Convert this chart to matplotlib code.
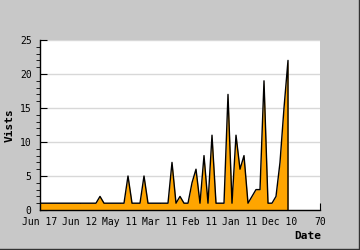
import numpy as np
import matplotlib
matplotlib.use("Agg")
import matplotlib.pyplot as plt
from matplotlib.ticker import MultipleLocator

# visits per sample
visits = [1] * 14 + [1, 2, 1, 1, 1, 1, 1, 1, 5, 1, 1, 1, 5, 1, 1, 1, 1, 1, 1,
                     7, 1, 2, 1, 1, 4, 6, 1, 8, 1, 11, 1, 1, 1, 17, 1, 11, 6,
                     8, 1, 2, 3, 3, 19, 1, 1, 2, 7, 15, 22]
tick_pos = [0, 10, 20, 30, 40, 50, 60, 70]
tick_labels = ["Jun 17", "Jun 12", "May 11", "Mar 11", "Feb 11",
               "Jan 11", "Dec 10", "70"]

plt.rcParams["font.family"] = ["DejaVu Sans Mono"]

x = np.arange(len(visits))
y = np.array(visits, dtype=float)

fig = plt.figure(figsize=(3.6, 2.5), dpi=100, facecolor="#c8c8c8")
ax = fig.add_axes([40 / 360, 40 / 250, 280 / 360, 170 / 250])
ax.set_facecolor("white")

ax.fill_between(x, y, 0, color="#ffa500", lw=0, zorder=2)
ax.plot(np.append(x, x[-1]), np.append(y, 0), color="black", lw=1, zorder=3)

ax.set_xlim(0, 70)
ax.set_ylim(0, 25)
ax.set_xticks(tick_pos)
ax.set_xticklabels(tick_labels)
ax.yaxis.set_major_locator(MultipleLocator(5))
ax.yaxis.set_minor_locator(MultipleLocator(1))
ax.grid(axis="y", color="#d8d8d8", lw=1, zorder=1)

for s in ("top", "right"):
    ax.spines[s].set_visible(False)
for s in ("left", "bottom"):
    ax.spines[s].set_linewidth(1)
    ax.spines[s].set_zorder(4)

ax.tick_params(axis="both", direction="in", labelsize=7, colors="black")
ax.tick_params(axis="y", which="major", length=5, pad=6)
ax.tick_params(axis="y", which="minor", length=3)
ax.tick_params(axis="x", which="major", length=5, pad=5)

fig.text(10 / 360, 1 - 125 / 250, "Vists", rotation=90, fontsize=8,
         fontweight="bold", ha="center", va="center")
fig.text(321 / 360, 1 - 236 / 250, "Date", fontsize=8, fontweight="bold",
         ha="right", va="center")

# dark frame on the right and bottom edges
fig.add_artist(plt.Line2D([0.997, 0.997], [0, 1], color="#333333", lw=1,
                          transform=fig.transFigure))
fig.add_artist(plt.Line2D([0, 1], [0.004, 0.004], color="#333333", lw=1,
                          transform=fig.transFigure))

fig.savefig("out.png", dpi=100, facecolor=fig.get_facecolor())
